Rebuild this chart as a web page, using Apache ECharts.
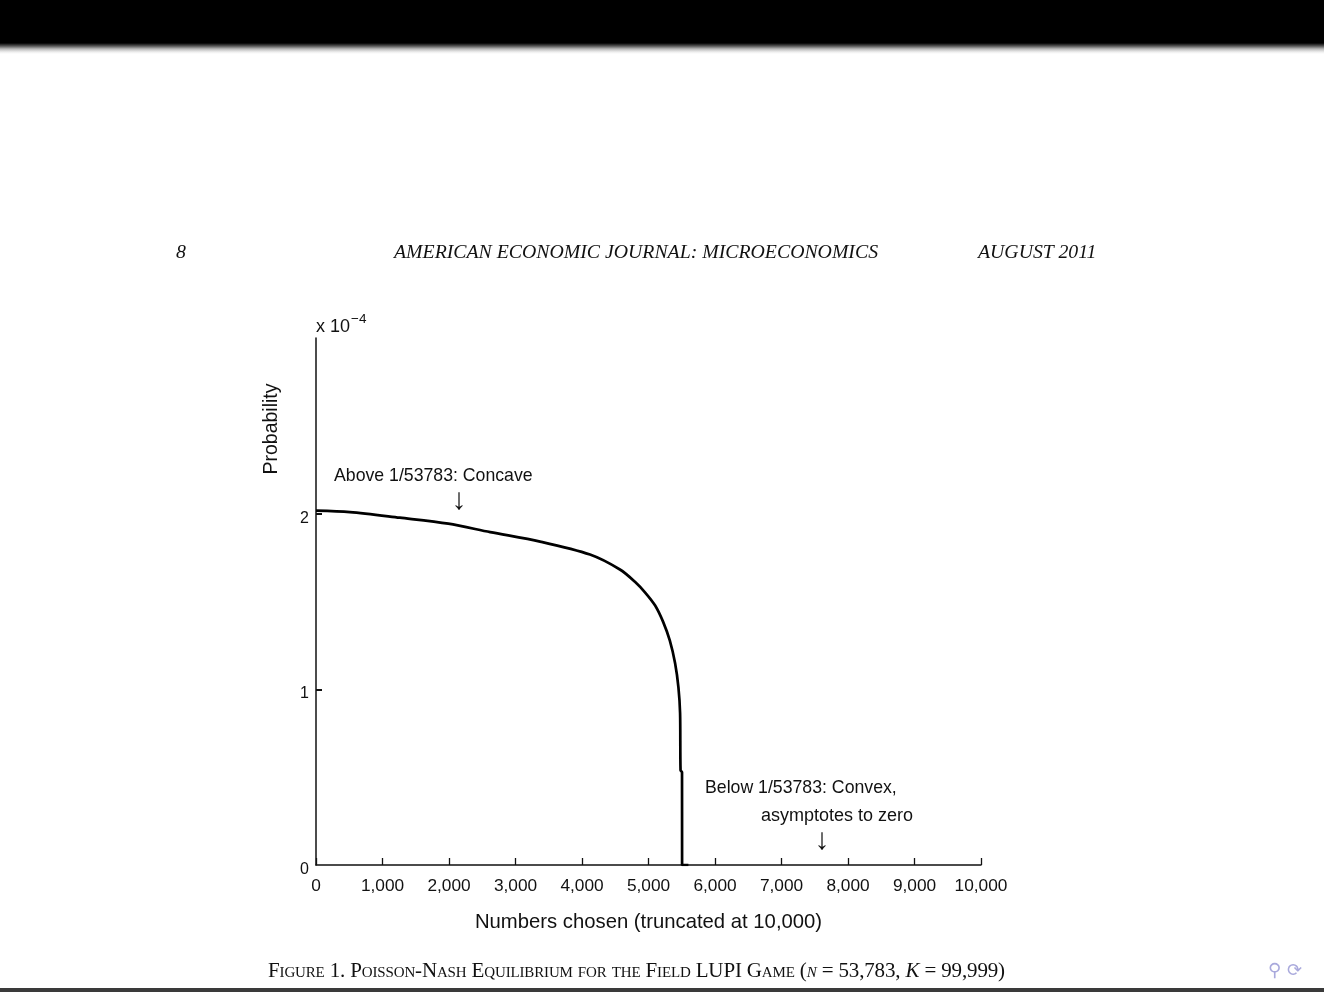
<!DOCTYPE html>
<html>
<head>
<meta charset="utf-8">
<script src="https://cdn.jsdelivr.net/npm/echarts@6/dist/echarts.min.js"></script>
<style>
  html, body { margin: 0; padding: 0; background: #fff; }
  #wrap { position: relative; width: 1324px; height: 992px; overflow: hidden; background: #fff; }
  #chart { position: absolute; left: 0; top: 0; width: 1324px; height: 992px; }
  .topbar { position: absolute; left: 0; top: 0; width: 1324px; height: 54px;
    background: linear-gradient(to bottom, #000 0px, #000 43px, #555 46px, #bbb 49px, #eee 52px, #fff 54px); }
  .hdr { position: absolute; top: 240px; font-family: "Liberation Serif", "Times New Roman", serif; font-style: italic;
    font-size: 19.8px; line-height: 22px; color: #111; white-space: nowrap; }
  .cap { position: absolute; top: 957px; left: 0; width: 1273px; text-align: center;
    font-family: "Liberation Serif", "Times New Roman", serif; font-size: 21px; letter-spacing: -0.15px; line-height: 26px; color: #111;
    font-variant: small-caps; white-space: nowrap; }
  .nav { position: absolute; top: 958px; left: 1268px; font-family: "DejaVu Sans", sans-serif; font-size: 18px;
    color: #a9a9dc; white-space: nowrap; line-height: 24px; }
  .bottomline { position: absolute; left: 0; top: 988px; width: 1324px; height: 4px; background: #3a3a3a; }
</style>
</head>
<body>
<div id="wrap">
  <div id="chart"></div>
  <div class="topbar"></div>
  <div class="hdr" style="left:176px;">8</div>
  <div class="hdr" style="left:394px;">AMERICAN ECONOMIC JOURNAL: MICROECONOMICS</div>
  <div class="hdr" style="left:978px;">AUGUST 2011</div>
  <div class="cap">Figure 1. Poisson-Nash Equilibrium for the Field LUPI Game (<i>n</i> = 53,783, <i>K</i> = 99,999)</div>
  <div class="nav">⚲ ⟳</div>
  <div class="bottomline"></div>
</div>
<script>
// Numbers chosen (x) and equilibrium probability (in units of 1e-4)
var numbersChosen = [1, 510, 1260, 1990, 2620, 3370, 4120, 4570, 4800, 4950, 5100, 5220, 5320, 5400, 5450, 5475, 5482, 5504, 5505, 5600];
var probability   = [2.017, 2.009, 1.977, 1.943, 1.895, 1.841, 1.767, 1.682, 1.611, 1.551, 1.477, 1.384, 1.278, 1.148, 1.011, 0.864, 0.540, 0.528, 0, 0];
var xTickValues = [0, 1000, 2000, 3000, 4000, 5000, 6000, 7000, 8000, 9000, 10000];
var yLabelValues = [0, 1, 2];
var yTickValues = [1, 2];

var seriesData = numbersChosen.map(function (x, i) { return [x, probability[i]]; });

var chart = echarts.init(document.getElementById('chart'), null, { renderer: 'canvas' });
var sans = '"Liberation Sans", Arial, Helvetica, sans-serif';
chart.setOption({
  animation: false,
  backgroundColor: 'transparent',
  grid: { left: 316, top: 338, width: 665, height: 527, containLabel: false },
  xAxis: {
    type: 'value', min: 0, max: 10000, interval: 1000,
    name: 'Numbers chosen (truncated at 10,000)', nameLocation: 'middle', nameGap: 47,
    nameTextStyle: { fontFamily: sans, fontSize: 20.3, color: '#111' },
    axisLine: { show: true, lineStyle: { color: '#111', width: 1.5 } },
    axisTick: { show: true, inside: true, length: 7, lineStyle: { color: '#111', width: 1.3 } },
    axisLabel: { fontFamily: sans, fontSize: 17.3, color: '#111', margin: 13,
      formatter: function (v) { return v.toLocaleString('en-US'); } },
    splitLine: { show: false }
  },
  yAxis: {
    type: 'value', min: 0, max: 3, interval: 1,
    axisLine: { show: true, onZero: false, lineStyle: { color: '#111', width: 1.5 } },
    axisTick: { show: true, inside: true, length: 6, customValues: yTickValues, lineStyle: { color: '#111', width: 2 } },
    axisLabel: { fontFamily: sans, fontSize: 16, color: '#111', margin: 7, customValues: yLabelValues,
      verticalAlign: 'top', lineHeight: 9 },
    splitLine: { show: false }
  },
  series: [{
    type: 'line', data: seriesData, showSymbol: false, smooth: 0.3,
    lineStyle: { color: '#000', width: 2.7 }, z: 5
  }],
  graphic: [
    { type: 'text', left: 316, top: 312, style: {
        text: '{a|x 10}{b|−4}', fill: '#111',
        rich: { a: { fontFamily: sans, fontSize: 18, verticalAlign: 'bottom', lineHeight: 24 },
                b: { fontFamily: sans, fontSize: 13.5, verticalAlign: 'top', lineHeight: 24, padding: [0, 0, 9, 1] } } } },
    { type: 'text', x: 272, y: 429, rotation: Math.PI / 2, style: {
        text: 'Probability', fontFamily: sans, fontSize: 19.5, fill: '#111', align: 'center', verticalAlign: 'middle' } },
    { type: 'text', x: 334, y: 476, style: {
        text: 'Above 1/53783: Concave', fontFamily: sans, fontSize: 17.7, fill: '#111', align: 'left', verticalAlign: 'middle' } },
    { type: 'text', x: 459, y: 501, style: {
        text: '↓', fontFamily: '"Liberation Serif", serif', fontSize: 30, fill: '#111', align: 'center', verticalAlign: 'middle' } },
    { type: 'text', x: 705, y: 788, style: {
        text: 'Below 1/53783: Convex,', fontFamily: sans, fontSize: 17.7, fill: '#111', align: 'left', verticalAlign: 'middle' } },
    { type: 'text', x: 761, y: 816, style: {
        text: 'asymptotes to zero', fontFamily: sans, fontSize: 18, fill: '#111', align: 'left', verticalAlign: 'middle' } },
    { type: 'text', x: 822, y: 841, style: {
        text: '↓', fontFamily: '"Liberation Serif", serif', fontSize: 30, fill: '#111', align: 'center', verticalAlign: 'middle' } }
  ]
});
</script>
</body>
</html>
